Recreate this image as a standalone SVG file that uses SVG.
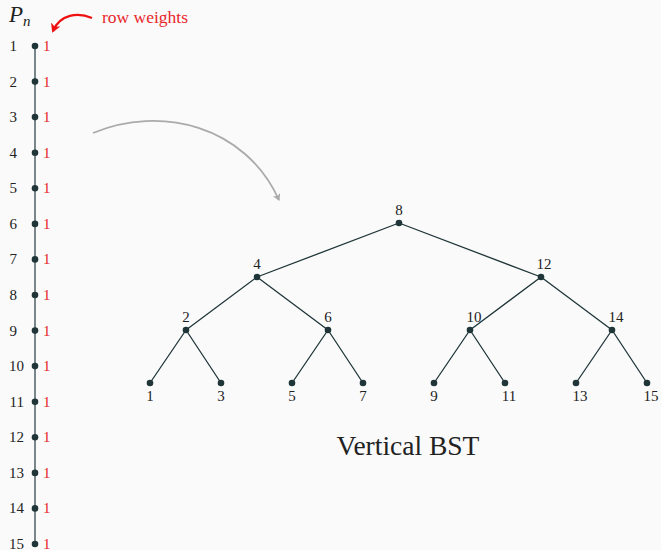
<svg xmlns="http://www.w3.org/2000/svg" width="661" height="550" viewBox="0 0 661 550">
<style>
.lbl{font-family:"Liberation Serif","DejaVu Serif",serif;font-size:15px;fill:#222}
.w{font-family:"Liberation Serif","DejaVu Serif",serif;font-size:15px;fill:#e8262a}
.e{stroke:#1f3538;stroke-width:1.3;fill:none}
.p{stroke:#5a6a6e;stroke-width:1.6}
.n{fill:#1f3538}
</style>
<defs>
<marker id="ar" markerWidth="10" markerHeight="10" refX="6" refY="4" orient="auto" markerUnits="userSpaceOnUse">
<path d="M0,0 L7,4 L0,8 L2,4 Z" fill="#aaaaaa"/>
</marker>
<marker id="rr" markerWidth="12" markerHeight="12" refX="7" refY="5" orient="auto" markerUnits="userSpaceOnUse">
<path d="M0,0 L9,5 L0,10 L2.5,5 Z" fill="#ee1111"/>
</marker>
</defs>
<rect width="661" height="550" fill="#fafafa"/>
<text x="9" y="22" style="font-family:'Liberation Serif','DejaVu Serif',serif;font-size:23px;font-style:italic;fill:#222">P<tspan font-size="15" dy="4">n</tspan></text>
<g id="annot">
<path d="M92,18 C78,12 60,14 53,31" stroke="#ee1111" stroke-width="2.2" fill="none" marker-end="url(#rr)"/>
<text x="102" y="23" style="font-family:'Liberation Serif','DejaVu Serif',serif;font-size:17.5px;fill:#e8262a">row weights</text>
<path d="M93,133 C160,105 245,125 279,200" stroke="#aaaaaa" stroke-width="1.8" fill="none" marker-end="url(#ar)"/>
</g>
<g id="connectors">
<line class="p" x1="35" y1="46" x2="35" y2="544"/>
<path class="e" d="M399,223 L257,277 M399,223 L541,277 M257,277 L186,330 M257,277 L328,330 M541,277 L470,330 M541,277 L612,330 M186,330 L150,383 M186,330 L221,383 M328,330 L292,383 M328,330 L363,383 M470,330 L434,383 M470,330 L505,383 M612,330 L576,383 M612,330 L647,383"/>
</g>
<g id="path-nodes">
<g id="p1"><circle class="n" cx="35" cy="46" r="3.3"/><text class="lbl" x="17" y="51" text-anchor="end">1</text><text class="w" x="43" y="51">1</text></g>
<g id="p2"><circle class="n" cx="35" cy="81.6" r="3.3"/><text class="lbl" x="17" y="86.6" text-anchor="end">2</text><text class="w" x="43" y="86.6">1</text></g>
<g id="p3"><circle class="n" cx="35" cy="117.1" r="3.3"/><text class="lbl" x="17" y="122.1" text-anchor="end">3</text><text class="w" x="43" y="122.1">1</text></g>
<g id="p4"><circle class="n" cx="35" cy="152.7" r="3.3"/><text class="lbl" x="17" y="157.7" text-anchor="end">4</text><text class="w" x="43" y="157.7">1</text></g>
<g id="p5"><circle class="n" cx="35" cy="188.3" r="3.3"/><text class="lbl" x="17" y="193.3" text-anchor="end">5</text><text class="w" x="43" y="193.3">1</text></g>
<g id="p6"><circle class="n" cx="35" cy="223.9" r="3.3"/><text class="lbl" x="17" y="228.9" text-anchor="end">6</text><text class="w" x="43" y="228.9">1</text></g>
<g id="p7"><circle class="n" cx="35" cy="259.4" r="3.3"/><text class="lbl" x="17" y="264.4" text-anchor="end">7</text><text class="w" x="43" y="264.4">1</text></g>
<g id="p8"><circle class="n" cx="35" cy="295" r="3.3"/><text class="lbl" x="17" y="300" text-anchor="end">8</text><text class="w" x="43" y="300">1</text></g>
<g id="p9"><circle class="n" cx="35" cy="330.6" r="3.3"/><text class="lbl" x="17" y="335.6" text-anchor="end">9</text><text class="w" x="43" y="335.6">1</text></g>
<g id="p10"><circle class="n" cx="35" cy="366.1" r="3.3"/><text class="lbl" x="24" y="371.1" text-anchor="end">10</text><text class="w" x="43" y="371.1">1</text></g>
<g id="p11"><circle class="n" cx="35" cy="401.7" r="3.3"/><text class="lbl" x="24" y="406.7" text-anchor="end">11</text><text class="w" x="43" y="406.7">1</text></g>
<g id="p12"><circle class="n" cx="35" cy="437.3" r="3.3"/><text class="lbl" x="24" y="442.3" text-anchor="end">12</text><text class="w" x="43" y="442.3">1</text></g>
<g id="p13"><circle class="n" cx="35" cy="472.9" r="3.3"/><text class="lbl" x="24" y="477.9" text-anchor="end">13</text><text class="w" x="43" y="477.9">1</text></g>
<g id="p14"><circle class="n" cx="35" cy="508.4" r="3.3"/><text class="lbl" x="24" y="513.4" text-anchor="end">14</text><text class="w" x="43" y="513.4">1</text></g>
<g id="p15"><circle class="n" cx="35" cy="544" r="3.3"/><text class="lbl" x="24" y="549" text-anchor="end">15</text><text class="w" x="43" y="549">1</text></g>
</g>
<g id="tree-nodes">
<g id="t8"><circle class="n" cx="399" cy="223" r="3.3"/><text class="lbl" x="399" y="215" text-anchor="middle">8</text></g>
<g id="t4"><circle class="n" cx="257" cy="277" r="3.3"/><text class="lbl" x="257" y="269" text-anchor="middle">4</text></g>
<g id="t12"><circle class="n" cx="541" cy="277" r="3.3"/><text class="lbl" x="544" y="269" text-anchor="middle">12</text></g>
<g id="t2"><circle class="n" cx="186" cy="330" r="3.3"/><text class="lbl" x="186" y="322" text-anchor="middle">2</text></g>
<g id="t6"><circle class="n" cx="328" cy="330" r="3.3"/><text class="lbl" x="328" y="322" text-anchor="middle">6</text></g>
<g id="t10"><circle class="n" cx="470" cy="330" r="3.3"/><text class="lbl" x="474" y="322" text-anchor="middle">10</text></g>
<g id="t14"><circle class="n" cx="612" cy="330" r="3.3"/><text class="lbl" x="616" y="322" text-anchor="middle">14</text></g>
<g id="t1"><circle class="n" cx="150" cy="383" r="3.3"/><text class="lbl" x="150" y="401" text-anchor="middle">1</text></g>
<g id="t3"><circle class="n" cx="221" cy="383" r="3.3"/><text class="lbl" x="221" y="401" text-anchor="middle">3</text></g>
<g id="t5"><circle class="n" cx="292" cy="383" r="3.3"/><text class="lbl" x="292" y="401" text-anchor="middle">5</text></g>
<g id="t7"><circle class="n" cx="363" cy="383" r="3.3"/><text class="lbl" x="363" y="401" text-anchor="middle">7</text></g>
<g id="t9"><circle class="n" cx="434" cy="383" r="3.3"/><text class="lbl" x="434" y="401" text-anchor="middle">9</text></g>
<g id="t11"><circle class="n" cx="505" cy="383" r="3.3"/><text class="lbl" x="509" y="401" text-anchor="middle">11</text></g>
<g id="t13"><circle class="n" cx="576" cy="383" r="3.3"/><text class="lbl" x="580" y="401" text-anchor="middle">13</text></g>
<g id="t15"><circle class="n" cx="647" cy="383" r="3.3"/><text class="lbl" x="651" y="401" text-anchor="middle">15</text></g>
</g>
<text x="408" y="455" text-anchor="middle" style="font-family:'Liberation Serif','DejaVu Serif',serif;font-size:27.5px;fill:#222">Vertical BST</text>
</svg>
